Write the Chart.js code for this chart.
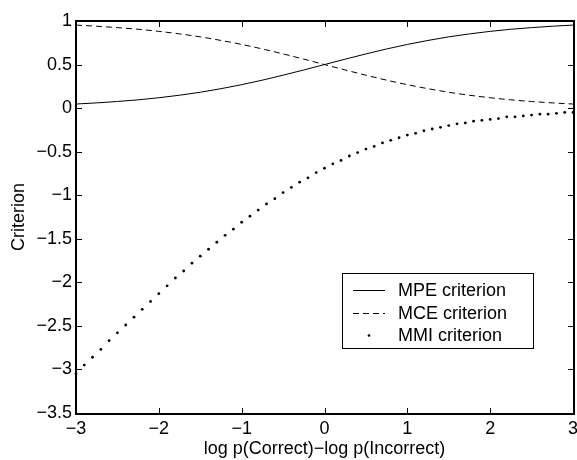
<!DOCTYPE html>
<html>
<head>
<meta charset="utf-8">
<script src="https://cdn.jsdelivr.net/npm/chart.js@4.4.1/dist/chart.umd.min.js"></script>
<style>
    html, body { margin: 0; padding: 0; background: #fff; }
</style>
</head>
<body>
<canvas id="criterion" width="577" height="460"></canvas>
<script>
// x positions of the smooth curves
var curveX = [-3, -2.75, -2.5, -2.25, -2, -1.75, -1.5, -1.25, -1, -0.75, -0.5, -0.25, 0,
    0.25, 0.5, 0.75, 1, 1.25, 1.5, 1.75, 2, 2.25, 2.5, 2.75, 3];
var mpeY = [0.047, 0.060, 0.076, 0.095, 0.119, 0.148, 0.182, 0.223, 0.269, 0.321, 0.378, 0.438, 0.5,
    0.562, 0.622, 0.679, 0.731, 0.777, 0.818, 0.852, 0.881, 0.905, 0.924, 0.940, 0.953];
var mceY = [0.953, 0.940, 0.924, 0.905, 0.881, 0.852, 0.818, 0.777, 0.731, 0.679, 0.622, 0.562, 0.5,
    0.438, 0.378, 0.321, 0.269, 0.223, 0.182, 0.148, 0.119, 0.095, 0.076, 0.060, 0.047];

// dotted MMI series, one dot every 0.1
var mmiX = [-3, -2.9, -2.8, -2.7, -2.6, -2.5, -2.4, -2.3, -2.2, -2.1, -2, -1.9, -1.8, -1.7, -1.6,
    -1.5, -1.4, -1.3, -1.2, -1.1, -1, -0.9, -0.8, -0.7, -0.6, -0.5, -0.4, -0.3, -0.2, -0.1, 0,
    0.1, 0.2, 0.3, 0.4, 0.5, 0.6, 0.7, 0.8, 0.9, 1, 1.1, 1.2, 1.3, 1.4, 1.5, 1.6, 1.7, 1.8, 1.9,
    2, 2.1, 2.2, 2.3, 2.4, 2.5, 2.6, 2.7, 2.8, 2.9, 3];
var mmiY = [-3.05, -2.95, -2.86, -2.77, -2.67, -2.58, -2.49, -2.40, -2.31, -2.22, -2.13, -2.04,
    -1.95, -1.87, -1.78, -1.70, -1.62, -1.54, -1.46, -1.39, -1.31, -1.24, -1.17, -1.10, -1.04,
    -0.97, -0.91, -0.85, -0.80, -0.74, -0.69, -0.64, -0.60, -0.55, -0.51, -0.47, -0.44, -0.40,
    -0.37, -0.34, -0.31, -0.29, -0.26, -0.24, -0.22, -0.20, -0.18, -0.17, -0.15, -0.14, -0.13,
    -0.12, -0.10, -0.10, -0.09, -0.08, -0.07, -0.07, -0.06, -0.05, -0.05];

var xTicks = [-3, -2, -1, 0, 1, 2, 3];
var yTicks = [-3.5, -3, -2.5, -2, -1.5, -1, -0.5, 0, 0.5, 1];

var fontFamily = '"Liberation Sans", Arial, Helvetica, sans-serif';
var fontSize = 18;

function toPoints(xs, ys) {
    var pts = [];
    for (var i = 0; i < xs.length; i++) {
        pts.push({x: xs[i], y: ys[i]});
    }
    return pts;
}

function minusSign(value) {
    return String(value).replace('-', '\u2212');
}

// frame round the plot, MATLAB style inward ticks on all four sides, and the legend box
var framePlugin = {
    id: 'matlabFrame',
    afterDraw: function(chart) {
        var ctx = chart.ctx;
        var area = chart.chartArea;
        var xs = chart.scales.x, ys = chart.scales.y;
        var len = 5;
        var l = Math.round(area.left), r = Math.round(area.right);
        var t = Math.round(area.top), b = Math.round(area.bottom);

        ctx.save();
        ctx.fillStyle = '#000';
        ctx.fillRect(l - 1, t - 1, r - l + 3, 2);
        ctx.fillRect(l - 1, b, r - l + 3, 2);
        ctx.fillRect(l - 1, t - 1, 2, b - t + 3);
        ctx.fillRect(r, t - 1, 2, b - t + 3);
        xTicks.forEach(function(v) {
            var px = Math.round(xs.getPixelForValue(v));
            ctx.fillRect(px, b - len, 1, len);
            ctx.fillRect(px, t + 1, 1, len);
        });
        yTicks.forEach(function(v) {
            var py = Math.round(ys.getPixelForValue(v));
            ctx.fillRect(l + 1, py, len, 1);
            ctx.fillRect(r - len, py, len, 1);
        });

        // legend
        var bw = 191, bh = 75;
        var bx = Math.round(area.right - 40 - bw);
        var by = Math.round(area.bottom - 65 - bh);
        ctx.fillStyle = '#fff';
        ctx.fillRect(bx, by, bw, bh);
        ctx.fillStyle = '#000';
        ctx.fillRect(bx, by, bw + 1, 1);
        ctx.fillRect(bx, by + bh, bw + 1, 1);
        ctx.fillRect(bx, by, 1, bh + 1);
        ctx.fillRect(bx + bw, by, 1, bh + 1);
        ctx.font = fontSize + 'px ' + fontFamily;
        ctx.textBaseline = 'middle';
        ctx.strokeStyle = '#000';
        ctx.lineWidth = 1;
        chart.data.datasets.forEach(function(ds, i) {
            var cy = Math.round(by + 17 + i * 22.5) + 0.5;
            ctx.beginPath();
            if (ds.showLine === false) {
                ctx.arc(bx + 27, cy, 1.3, 0, Math.PI * 2);
                ctx.fill();
            } else {
                ctx.setLineDash(ds.borderDash || []);
                ctx.moveTo(bx + 11, cy);
                ctx.lineTo(bx + 43, cy);
                ctx.stroke();
                ctx.setLineDash([]);
            }
            ctx.fillText(ds.label, bx + 56, cy + 1);
        });
        ctx.restore();
    }
};

function createCriterionChart() {
    var canvas = document.getElementById('criterion');

    new Chart(canvas.getContext('2d'), {
        type: 'scatter',
        data: {
            datasets: [{
                label: 'MPE criterion',
                data: toPoints(curveX, mpeY),
                showLine: true,
                borderColor: '#000',
                borderWidth: 1,
                pointRadius: 0,
                cubicInterpolationMode: 'monotone'
            }, {
                label: 'MCE criterion',
                data: toPoints(curveX, mceY),
                showLine: true,
                borderColor: '#000',
                borderWidth: 1,
                borderDash: [6, 4],
                pointRadius: 0,
                cubicInterpolationMode: 'monotone'
            }, {
                label: 'MMI criterion',
                data: toPoints(mmiX, mmiY),
                showLine: false,
                backgroundColor: '#000',
                borderColor: '#000',
                borderWidth: 0,
                pointRadius: 1.4,
                clip: 3
            }]
        },
        options: {
            responsive: false,
            animation: false,
            layout: {
                padding: {top: 21, right: 4, left: 0, bottom: 0}
            },
            plugins: {
                legend: {display: false},
                tooltip: {enabled: false}
            },
            scales: {
                x: {
                    type: 'linear',
                    min: -3,
                    max: 3,
                    afterBuildTicks: function(scale) {
                        scale.ticks = xTicks.map(function(v) { return {value: v}; });
                    },
                    afterFit: function(scale) {
                        scale.height = 47;
                        scale.paddingLeft = 0;
                        scale.paddingRight = 0;
                    },
                    grid: {display: false, drawTicks: false},
                    border: {display: false},
                    ticks: {
                        color: '#000',
                        padding: 5,
                        maxRotation: 0,
                        font: {family: fontFamily, size: fontSize},
                        callback: function(v) { return minusSign(v); }
                    },
                    title: {
                        display: true,
                        text: 'log p(Correct)\u2212log p(Incorrect)',
                        color: '#000',
                        padding: {top: -5, bottom: 0},
                        font: {family: fontFamily, size: fontSize}
                    }
                },
                y: {
                    type: 'linear',
                    min: -3.5,
                    max: 1,
                    afterBuildTicks: function(scale) {
                        scale.ticks = yTicks.map(function(v) { return {value: v}; });
                    },
                    afterFit: function(scale) {
                        scale.width = 76;
                        scale.paddingTop = 0;
                        scale.paddingBottom = 0;
                    },
                    grid: {display: false, drawTicks: false},
                    border: {display: false},
                    ticks: {
                        color: '#000',
                        padding: 4,
                        font: {family: fontFamily, size: fontSize},
                        callback: function(v) { return minusSign(v); }
                    },
                    title: {
                        display: true,
                        text: 'Criterion',
                        color: '#000',
                        padding: {top: 8, bottom: 0},
                        font: {family: fontFamily, size: fontSize}
                    }
                }
            }
        },
        plugins: [framePlugin]
    });
}

createCriterionChart();
</script>
</body>
</html>
